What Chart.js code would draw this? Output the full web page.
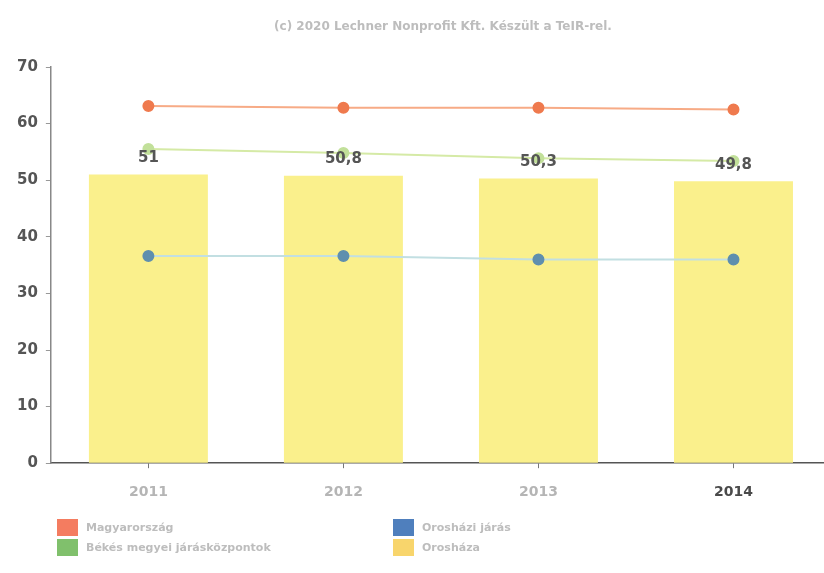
<!DOCTYPE html>
<html>
<head>
<meta charset="utf-8">
<script src="https://cdn.jsdelivr.net/npm/chart.js@4"></script>
<style>
  body { margin: 0; background: #fff; font-family: "DejaVu Sans", sans-serif; overflow: hidden; }
  #wrap { position: relative; width: 824px; height: 573px; overflow: hidden; }
  #title { position: absolute; left: 243px; width: 400px; top: 19px; text-align: center;
           font-size: 12px; font-weight: bold; color: #bdbdbd; }
  #legend { position: absolute; left: 57px; top: 519px; width: 700px; display: grid;
            grid-template-columns: 336px 300px; row-gap: 3px; }
  .item { display: flex; align-items: center; font-size: 11px; font-weight: bold; color: #bdbdbd; }
  .box { width: 21px; height: 17px; margin-right: 8px; }
</style>
</head>
<body>
<div id="wrap">
  <canvas id="myChart" width="838" height="573"></canvas>
  <div id="title">(c) 2020 Lechner Nonprofit Kft. Készült a TeIR-rel.</div>
  <div id="legend"></div>
</div>
<script>
const years = ["2011", "2012", "2013", "2014"];
const magyarorszag = [63.1, 62.8, 62.8, 62.5];
const bekesKozpontok = [55.5, 54.8, 53.9, 53.4];
const oroshaziJaras = [36.6, 36.6, 36.0, 36.0];
const oroshaza = [51, 50.8, 50.3, 49.8];
const yTicks = [0, 10, 20, 30, 40, 50, 60, 70];

const legendNames = ["Magyarország", "Orosházi járás", "Békés megyei járásközpontok", "Orosháza"];
const legendColors = ["#f47c60", "#4f7fbd", "#80c06c", "#f8d56c"];

// value labels over the bars, decimal comma like the original
const barLabels = {
    id: "barLabels",
    afterDatasetsDraw(chart) {
        const c = chart.ctx;
        const meta = chart.getDatasetMeta(3);
        c.save();
        c.font = "bold 15px 'DejaVu Sans'";
        c.fillStyle = "#555";
        c.textAlign = "center";
        c.textBaseline = "bottom";
        meta.data.forEach((bar, i) => {
            c.fillText(String(oroshaza[i]).replace(".", ","), bar.x, bar.y - 9);
        });
        c.restore();
    }
};

const ctx = document.getElementById("myChart");

new Chart(ctx, {
    data: {
        labels: years,
        datasets: [
            {
                type: "line", label: legendNames[0], data: magyarorszag, order: 1,
                borderColor: "#f7ab86", backgroundColor: "#ef7a4e",
                pointBackgroundColor: "#ef7a4e", pointBorderColor: "#ef7a4e",
                borderWidth: 2, pointRadius: 5
            },
            {
                type: "line", label: legendNames[1], data: oroshaziJaras, order: 2,
                borderColor: "#c2dfe2", backgroundColor: "#5f8fae",
                pointBackgroundColor: "#5f8fae", pointBorderColor: "#5f8fae",
                borderWidth: 2, pointRadius: 5
            },
            {
                type: "line", label: legendNames[2], data: bekesKozpontok, order: 3,
                borderColor: "#d5eaa6", backgroundColor: "#c2e09a",
                pointBackgroundColor: "#c2e09a", pointBorderColor: "#c2e09a",
                borderWidth: 2, pointRadius: 5
            },
            {
                type: "bar", label: legendNames[3], data: oroshaza, order: 10,
                backgroundColor: "#faf08c", borderWidth: 0,
                categoryPercentage: 0.61, barPercentage: 1
            }
        ]
    },
    options: {
        responsive: false,
        animation: false,
        layout: { padding: { left: 9, right: 6, top: 67, bottom: 56 } },
        plugins: {
            legend: { display: false },
            tooltip: { enabled: false },
            title: { display: false }
        },
        scales: {
            x: {
                grid: { drawOnChartArea: false, offset: false, tickLength: 5, color: "#777" },
                border: { display: true, color: "#555", width: 1.5 },
                ticks: {
                    padding: 16,
                    font: { family: "DejaVu Sans", size: 14, weight: "bold" },
                    color: (c) => c.index === 3 ? "#4a4a4a" : "#b5b5b5"
                }
            },
            y: {
                min: 0, max: 70,
                afterBuildTicks: (axis) => { axis.ticks = yTicks.map(v => ({ value: v })); },
                grid: { drawOnChartArea: false, tickLength: 5, color: "#999" },
                border: { display: true, color: "#888", width: 1.5 },
                ticks: {
                    padding: 8,
                    font: { family: "DejaVu Sans", size: 15, weight: "bold" },
                    color: "#555"
                }
            }
        }
    },
    plugins: [barLabels]
});

// two-column legend like the original
const legendEl = document.getElementById("legend");
legendNames.forEach((name, i) => {
    const item = document.createElement("div");
    item.className = "item";
    item.innerHTML = '<span class="box" style="background:' + legendColors[i] + '"></span>' + name;
    legendEl.appendChild(item);
});
</script>
</body>
</html>
